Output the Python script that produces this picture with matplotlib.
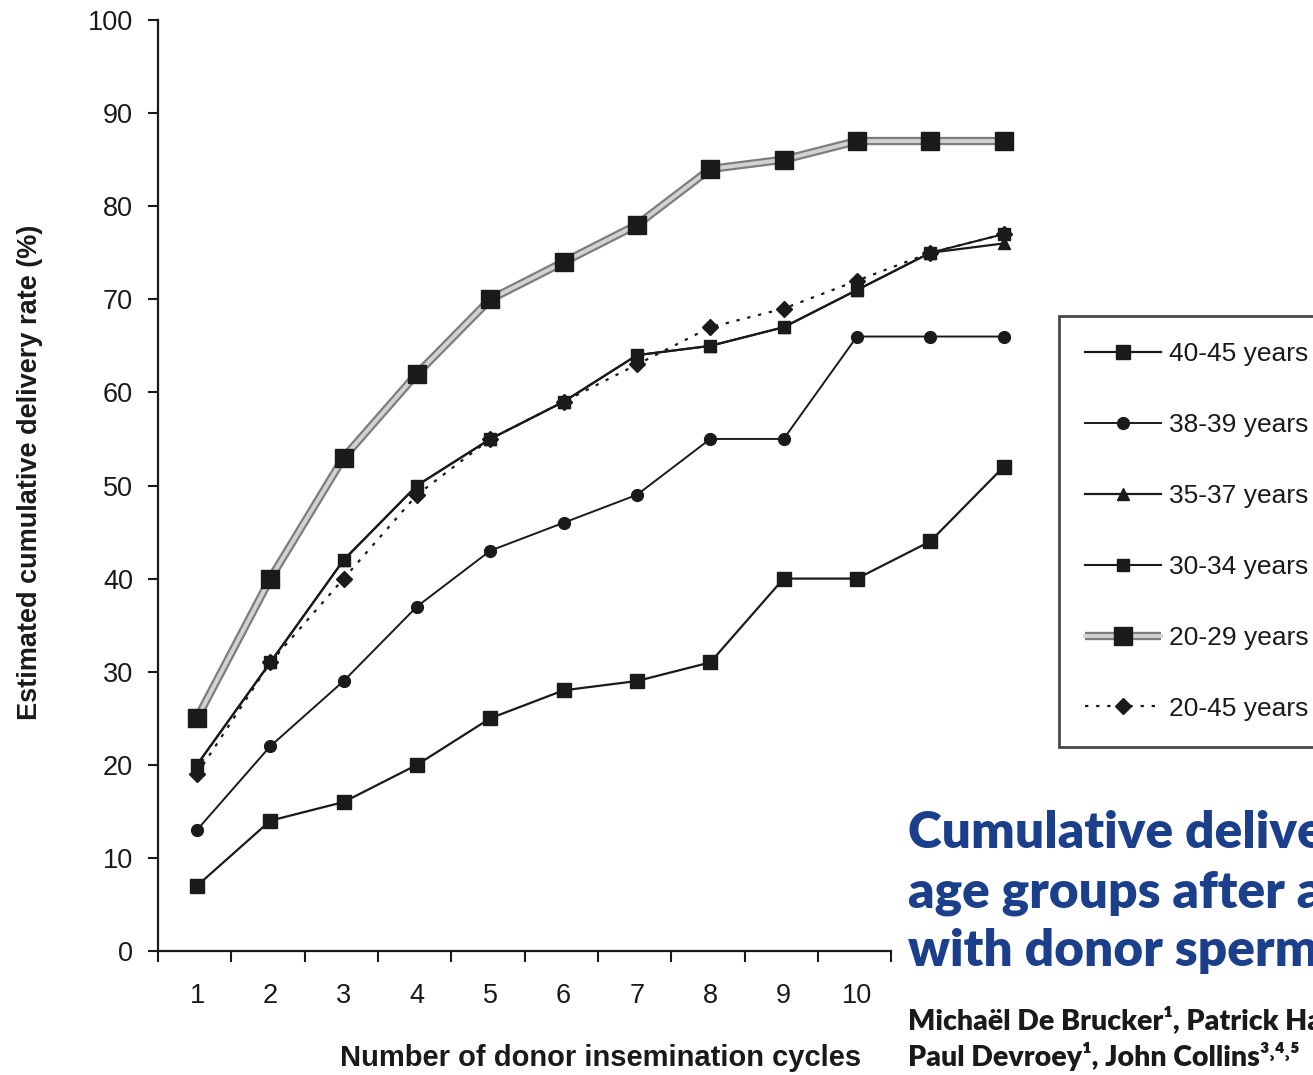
import matplotlib
matplotlib.use('Agg')
import matplotlib.pyplot as plt
from matplotlib.legend_handler import HandlerTuple

plt.rcParams['font.family'] = ['Liberation Sans', 'DejaVu Sans']

cycles = [1, 2, 3, 4, 5, 6, 7, 8, 9, 10, 11, 12]
tick_labels = ['1', '2', '3', '4', '5', '6', '7', '8', '9', '10']

age_40_45 = [7, 14, 16, 20, 25, 28, 29, 31, 40, 40, 44, 52]
age_38_39 = [13, 22, 29, 37, 43, 46, 49, 55, 55, 66, 66, 66]
age_35_37 = [20, 31, 42, 50, 55, 59, 64, 65, 67, 71, 75, 76]
age_30_34 = [20, 31, 42, 50, 55, 59, 64, 65, 67, 71, 75, 77]
age_20_29 = [25, 40, 53, 62, 70, 74, 78, 84, 85, 87, 87, 87]
age_20_45 = [19, 31, 40, 49, 55, 59, 63, 67, 69, 72, 75, 77]

W, H = 1313, 1075
fig = plt.figure(figsize=(W / 100, H / 100), dpi=100)

# axes box in pixels: left 158, bottom y 951, top y 20
px_unit = 73.33
x_lo = 1 - 39 / px_unit
x_hi = 12.6
ax = fig.add_axes([158 / W, (H - 951) / H, (x_hi - x_lo) * px_unit / W, (951 - 20) / H])
ax.set_xlim(x_lo, x_hi)
ax.set_ylim(0, 100)

k = '#1a1a1a'
l4045, = ax.plot(cycles, age_40_45, color=k, lw=1.6, marker='s', ms=10, mec=k, mfc=k, zorder=4)
l3839, = ax.plot(cycles, age_38_39, color=k, lw=1.4, marker='o', ms=8.5, mec=k, mfc=k, zorder=4)
l3537, = ax.plot(cycles, age_35_37, color=k, lw=1.6, marker='^', ms=8.5, mec=k, mfc=k, zorder=3)
l3034, = ax.plot(cycles, age_30_34, color=k, lw=1.5, marker='s', ms=8.5, mec=k, mfc=k, zorder=4)
l2945, = ax.plot(cycles, age_20_45, color=k, lw=1.6, ls=(0, (1.5, 3.5)), marker='D', ms=8,
                 mec=k, mfc=k, zorder=3)
# 20-29 years: thick grey double-edged line
g_out, = ax.plot(cycles, age_20_29, color='#7d7d7d', lw=6, solid_capstyle='butt', zorder=5)
g_in, = ax.plot(cycles, age_20_29, color='#d2d2d2', lw=2.8, marker='s', ms=13.5,
                mec=k, mfc=k, zorder=6)

for sp in ['top', 'right']:
    ax.spines[sp].set_visible(False)
for sp in ['left', 'bottom']:
    ax.spines[sp].set_linewidth(1.6)
    ax.spines[sp].set_color(k)
ax.spines['bottom'].set_bounds(x_lo, 10.47)

ax.set_yticks(range(0, 101, 10))
ax.tick_params(axis='y', direction='out', length=7, width=1.5, pad=11, labelsize=19.5, colors=k)
ax.set_xticks(range(1, 11))
ax.set_xticklabels(tick_labels)
ax.set_xticks([x_lo + i for i in range(11)], minor=True)
ax.tick_params(axis='x', which='major', length=0, pad=23, labelsize=19.5, colors=k)
ax.tick_params(axis='x', which='minor', direction='out', length=8, width=1.5, colors=k)

fig.text(601 / W, 1 - 1058 / H, 'Number of donor insemination cycles', fontsize=21,
         fontweight='bold', ha='center', va='center', color=k)
fig.text(30 / W, 1 - 472 / H, 'Estimated cumulative delivery rate (%)', fontsize=19.5,
         fontweight='bold', ha='center', va='center', rotation=90, color=k)

handles = [l4045, l3839, l3537, l3034, (g_out, g_in), l2945]
labels = ['40-45 years', '38-39 years', '35-37 years', '30-34 years', '20-29 years', '20-45 years']
leg = fig.legend(handles, labels, loc='upper left', bbox_to_anchor=(1059 / W, 1 - 316 / H),
                 fontsize=19, frameon=True, fancybox=False, handlelength=2.9,
                 handletextpad=0.3, labelspacing=1.78, borderpad=0.98, borderaxespad=0,
                 handler_map={tuple: HandlerTuple(ndivide=1, pad=0)})
leg.get_frame().set_edgecolor(k)
leg.get_frame().set_linewidth(2)
for t in leg.get_texts():
    t.set_color(k)

blue = '#1b3f8b'
title_lines = ['Cumulative delivery rates in different',
               'age groups after artificial insemination',
               'with donor sperm']
for i, line in enumerate(title_lines):
    fig.text(908 / W, 1 - (848 + 59 * i) / H, line, fontsize=37, fontweight='heavy',
             color=blue, family=['Lato', 'DejaVu Sans'], ha='left', va='baseline')

fig.text(908 / W, 1 - 1030 / H, 'Michaël De Brucker\u00b9, Patrick Haentjens\u00b2',
         fontsize=20.5, fontweight='heavy', color=k, family=['Lato', 'DejaVu Sans'],
         ha='left', va='baseline')
fig.text(908 / W, 1 - 1066 / H, 'Paul Devroey\u00b9, John Collins\u00b3\u02d2\u2074\u02d2\u2075',
         fontsize=20.5, fontweight='heavy', color=k, family=['Lato', 'DejaVu Sans'],
         ha='left', va='baseline')

fig.savefig('out.png', dpi=100)
